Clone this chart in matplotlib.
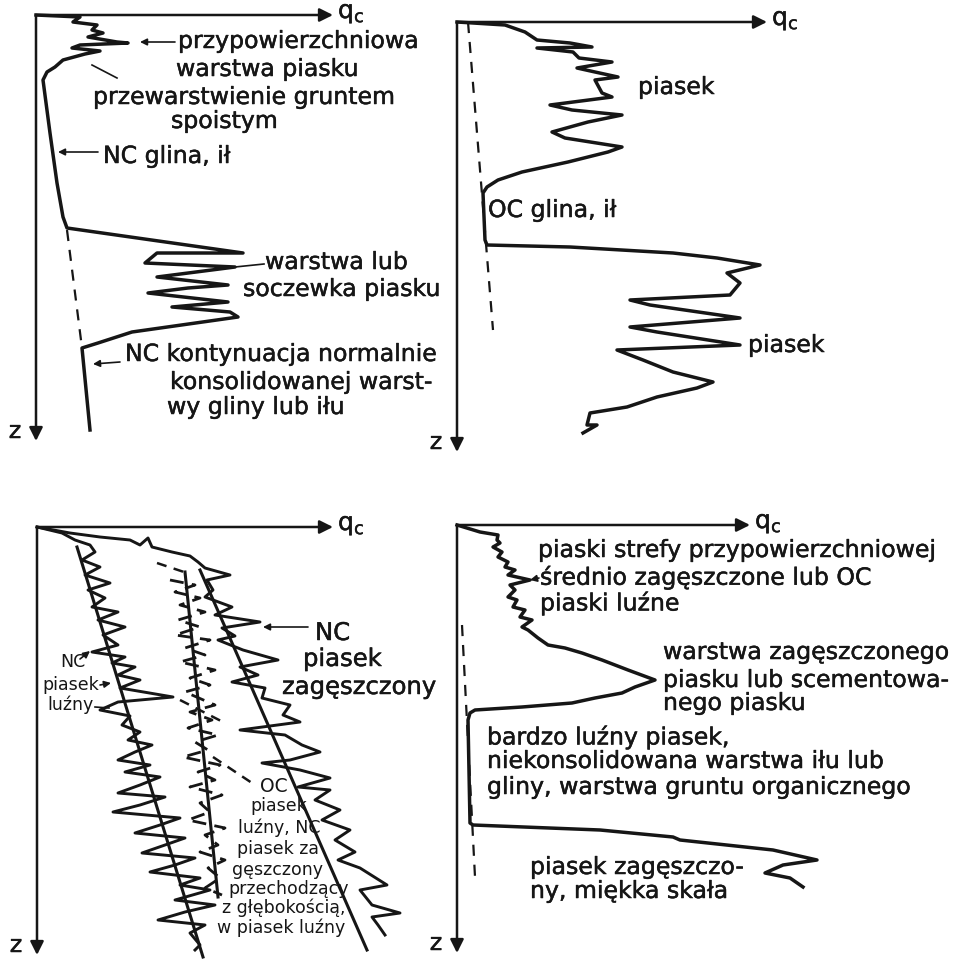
import matplotlib.pyplot as plt
import matplotlib.patheffects as pe

plt.rcParams['font.family'] = ['DejaVu Sans']

INK = '#161616'

# ---- panel 1: NC clay with sand lens (q_c to the right, z downwards) ----
p1_q = [0, 44, 37, 61, 56, 67, 52, 81, 92, 44, 36, 64, 49, 27, 19, 11, 7, 14, 21, 27,
        31, 207, 121, 109, 199, 121, 192, 152, 112, 192, 136, 194, 202, 96, 62, 46, 54]
p1_z = [0, 2, 7, 10, 15, 18, 22, 27, 28, 30, 33, 36, 39, 45, 52, 57, 65, 118, 168, 202,
        213, 238, 238, 248, 252, 262, 270, 273, 278, 287, 292, 297, 302, 317, 328, 333, 415]
p1_dash_q = [31, 46]
p1_dash_z = [215, 333]

# ---- panel 2: sand / OC clay / sand ----
p2_q = [0, 48, 68, 80, 113, 135, 80, 116, 122, 155, 120, 138, 161, 138, 145, 155, 93, 115, 165, 131,
        95, 108, 165, 151, 111, 65, 41, 30, 26, 28, 30, 113, 216, 260, 303, 270, 283, 273, 173, 193,
        283, 173, 200, 283, 160, 186, 216, 256, 240, 200, 170, 133, 130, 140, 126]
p2_z = [0, 3, 10, 18, 21, 25, 26, 30, 36, 40, 46, 50, 55, 58, 71, 75, 83, 88, 93, 100,
        110, 116, 125, 130, 140, 150, 158, 165, 171, 218, 223, 225, 231, 236, 243, 251, 261, 273, 278, 283,
        296, 305, 310, 323, 328, 338, 350, 360, 366, 375, 385, 391, 403, 403, 411]
p2_dash_q = [11, 36]
p2_dash_z = [0, 308]

# ---- panel 3: NC loose sand, NC dense sand, OC sand ----
loose_q = [0, 25, 38, 53, 58, 45, 63, 48, 73, 51, 68, 55, 81, 61, 88, 66, 81, 55, 88, 75,
           98, 81, 103, 83, 136, 81, 63, 93, 85, 103, 91, 115, 98, 81, 113, 88, 123, 103, 81, 128,
           103, 76, 143, 123, 98, 148, 128, 105, 158, 138, 113, 163, 143, 173, 138, 178, 148, 121, 168, 153,
           163, 158]
loose_z = [0, 6, 13, 18, 25, 33, 40, 48, 56, 63, 71, 80, 85, 93, 100, 108, 118, 125, 130, 136,
           140, 148, 153, 161, 170, 175, 183, 189, 198, 205, 213, 218, 225, 233, 238, 245, 250, 258, 266, 270,
           278, 285, 291, 298, 306, 311, 318, 326, 331, 338, 345, 351, 358, 363, 373, 378, 385, 393, 398, 406,
           418, 423]
dense_q = [0, 33, 63, 93, 103, 111, 115, 135, 153, 161, 168, 193, 170, 176, 168, 195, 178, 223, 185, 198,
           181, 206, 241, 203, 221, 195, 228, 225, 253, 246, 263, 203, 248, 265, 283, 253, 225, 263, 293, 261,
           293, 278, 303, 285, 313, 298, 318, 301, 323, 350, 323, 335, 363, 335, 341, 348]
dense_z = [0, 6, 10, 13, 18, 11, 20, 25, 29, 35, 41, 48, 53, 63, 70, 80, 88, 95, 101, 109,
           113, 123, 133, 140, 148, 155, 161, 171, 178, 188, 195, 203, 208, 218, 225, 233, 236, 243, 251, 260,
           263, 273, 283, 293, 303, 313, 325, 333, 341, 358, 363, 378, 386, 390, 398, 408]
oc_q = [133, 158, 138, 163, 143, 168, 141, 163, 138, 173, 148, 168, 143, 178, 153, 173, 148, 178, 153, 175,
        151, 181, 158, 171, 146, 183, 161, 178, 153, 185, 163, 173, 151, 188, 168, 181, 163, 188, 171, 183,
        168, 185]
oc_z = [53, 58, 65, 71, 78, 85, 93, 100, 108, 113, 121, 128, 135, 143, 151, 158, 165, 178, 185, 193,
        201, 208, 215, 223, 230, 238, 245, 253, 260, 268, 276, 285, 293, 301, 308, 318, 325, 333, 341, 351,
        361, 368]
trend_loose_q, trend_loose_z = [40, 166], [20, 430]
trend_oc_q, trend_oc_z = [148, 181], [45, 370]
trend_dense_q, trend_dense_z = [163, 330], [43, 423]
oc_top_q, oc_top_z = [120, 150], [36, 46]
oc_mid_q, oc_mid_z = [143, 186], [173, 195]
oc_lead_q, oc_lead_z = [176, 215], [230, 256]

# ---- panel 4: near-surface sands, cemented layer, very loose layer, dense sand ----
p4_q = [0, 23, 41, 40, 43, 36, 45, 41, 51, 48, 58, 51, 73, 53, 58, 51, 60, 56, 68, 63,
        75, 65, 71, 81, 91, 108, 125, 145, 171, 198, 178, 165, 138, 115, 65, 18, 13, 11, 13, 16,
        143, 216, 223, 316, 360, 326, 308, 333, 346]
p4_z = [0, 7, 10, 15, 18, 22, 27, 32, 37, 42, 45, 50, 55, 60, 65, 72, 75, 82, 85, 92,
        95, 102, 105, 113, 120, 123, 128, 135, 145, 155, 162, 168, 173, 178, 182, 185, 188, 195, 298, 300,
        305, 312, 315, 325, 335, 340, 348, 353, 362]
p4_dash_q = [5, 18]
p4_dash_z = [100, 352]

# panel frames in figure pixels: x0, y0, x1, y1, origin x, origin y, q-axis length, z-axis length
FW, FH = 976, 959
frames = [
    (0, 0, 445, 470, 36, 15, 297, 426),
    (445, 0, 976, 470, 457, 22, 310, 430),
    (0, 470, 445, 959, 37, 527, 296, 428),
    (445, 470, 976, 959, 457, 525, 293, 428),
]

heavy = [pe.withStroke(linewidth=0.35, foreground=INK)]

fig = plt.figure(figsize=(FW / 100, FH / 100), dpi=100)
axes = []
for x0, y0, x1, y1, ox, oy, qlen, zlen in frames:
    ax = fig.add_axes([x0 / FW, 1 - y1 / FH, (x1 - x0) / FW, (y1 - y0) / FH])
    ax.set_xlim(x0 - ox, x1 - ox)
    ax.set_ylim(y1 - oy, y0 - oy)
    ax.axis('off')
    arrow = dict(arrowstyle='-|>', lw=1.8, color=INK, mutation_scale=20, shrinkA=0, shrinkB=0)
    ax.annotate('', xy=(qlen, 0), xytext=(0, 0), arrowprops=arrow)
    ax.annotate('', xy=(0, zlen), xytext=(0, 0), arrowprops=arrow)
    ax.text(qlen + 5, -2, r'$\mathregular{q_c}$', fontsize=18, ha='left', va='center',
            color=INK, path_effects=heavy)
    ax.text(-21, zlen - 10, 'z', fontsize=17, ha='center', va='center', color=INK,
            path_effects=heavy)
    axes.append(ax)

lw_prof = 2.5
txt = dict(fontsize=17, ha='left', va='center', color=INK, path_effects=heavy)
small_arrow = dict(arrowstyle='-|>', lw=1.2, color=INK, mutation_scale=10, shrinkA=0, shrinkB=0)

# panel 1
ax = axes[0]
ax.plot(p1_q, p1_z, color=INK, lw=lw_prof, solid_joinstyle='round')
ax.plot(p1_dash_q, p1_dash_z, color=INK, lw=1.6, ls=(0, (5, 4)))
ax.text(142, 26, 'przypowierzchniowa', **txt)
ax.text(140, 54, 'warstwa piasku', **txt)
ax.text(57, 82, 'przewarstwienie gruntem', **txt)
ax.text(135, 106, 'spoistym', **txt)
ax.text(67, 141, 'NC glina, ił', **txt)
ax.text(229, 247, 'warstwa lub', **txt)
ax.text(207, 274, 'soczewka piasku', **txt)
ax.text(89, 339, 'NC kontynuacja normalnie', **txt)
ax.text(134, 367, 'konsolidowanej warst-', **txt)
ax.text(131, 392, 'wy gliny lub iłu', **txt)
ax.annotate('', xy=(104, 27), xytext=(139, 27), arrowprops=small_arrow)
ax.plot([81, 56], [63, 50], color=INK, lw=1.2)
ax.annotate('', xy=(22, 137), xytext=(62, 137), arrowprops=small_arrow)
ax.annotate('', xy=(57, 349), xytext=(84, 347), arrowprops=small_arrow)
ax.plot([199, 228], [252, 249], color=INK, lw=1.2)

# panel 2
ax = axes[1]
ax.plot(p2_q, p2_z, color=INK, lw=lw_prof, solid_joinstyle='round')
ax.plot(p2_dash_q, p2_dash_z, color=INK, lw=1.6, ls=(0, (5, 4)))
ax.text(181, 65, 'piasek', **txt)
ax.text(31, 188, 'OC glina, ił', **txt)
ax.text(291, 323, 'piasek', **txt)

# panel 3
ax = axes[2]
ax.plot(trend_loose_q, trend_loose_z, color=INK, lw=2.2)
ax.plot(trend_oc_q, trend_oc_z, color=INK, lw=2.2)
ax.plot(trend_dense_q, trend_dense_z, color=INK, lw=2.2)
ax.plot(loose_q, loose_z, color=INK, lw=2.1, solid_joinstyle='round')
ax.plot(dense_q, dense_z, color=INK, lw=2.1, solid_joinstyle='round')
ax.plot(oc_q, oc_z, color=INK, lw=2.0, ls=(0, (5, 3)))
ax.plot(oc_top_q, oc_top_z, color=INK, lw=1.8, ls=(0, (4, 3)))
ax.plot(oc_mid_q, oc_mid_z, color=INK, lw=1.8, ls=(0, (4, 3)))
ax.plot(oc_lead_q, oc_lead_z, color=INK, lw=1.8, ls=(0, (4, 3)))
big = dict(fontsize=17.5, ha='left', va='center', color=INK, path_effects=heavy)
ax.text(278, 106, 'NC', **big)
ax.text(266, 132, 'piasek', **big)
ax.text(245, 160, 'zagęszczony', **big)
ax.annotate('', xy=(226, 100), xytext=(271, 100), arrowprops=small_arrow)
sm = dict(fontsize=12.5, ha='left', va='center', color=INK)
ax.text(23, 135, 'NC', **sm)
ax.text(5, 158, 'piasek', **sm)
ax.text(10, 178, 'luźny', **sm)
ax.annotate('', xy=(53, 124), xytext=(43, 132), arrowprops=small_arrow)
ax.annotate('', xy=(74, 156), xytext=(63, 158), arrowprops=small_arrow)
ax.plot([58, 72], [180, 181], color=INK, lw=1.2)
ax.text(223, 260, 'OC', fontsize=13.5, ha='left', va='center', color=INK)
oc_lines = ['piasek', 'luźny, NC', 'piasek za', 'gęszczony', 'przechodzący',
            'z głębokością,', 'w piasek luźny']
oc_x = [213, 201, 200, 195, 191, 185, 180]
oc_y = [279, 301, 322, 343, 362, 381, 401]
for s, xq, yz in zip(oc_lines, oc_x, oc_y):
    ax.text(xq, yz, s, **sm)

# panel 4
ax = axes[3]
ax.plot(p4_q, p4_z, color=INK, lw=lw_prof, solid_joinstyle='round')
ax.plot(p4_dash_q, p4_dash_z, color=INK, lw=1.6, ls=(0, (5, 4)))
ax.text(81, 25, 'piaski strefy przypowierzchniowej', **txt)
ax.text(83, 52, 'średnio zagęszczone lub OC', **txt)
ax.text(83, 78, 'piaski luźne', **txt)
ax.text(206, 127, 'warstwa zagęszczonego', **txt)
ax.text(206, 155, 'piasku lub scementowa-', **txt)
ax.text(206, 178, 'nego piasku', **txt)
ax.text(30, 212, 'bardzo luźny piasek,', **txt)
ax.text(30, 236, 'niekonsolidowana warstwa iłu lub', **txt)
ax.text(30, 262, 'gliny, warstwa gruntu organicznego', **txt)
ax.text(73, 342, 'piasek zagęszczo-', **txt)
ax.text(73, 366, 'ny, miękka skała', **txt)
ax.annotate('', xy=(73, 55), xytext=(82, 53), arrowprops=small_arrow)

fig.savefig('out.png', dpi=100)
